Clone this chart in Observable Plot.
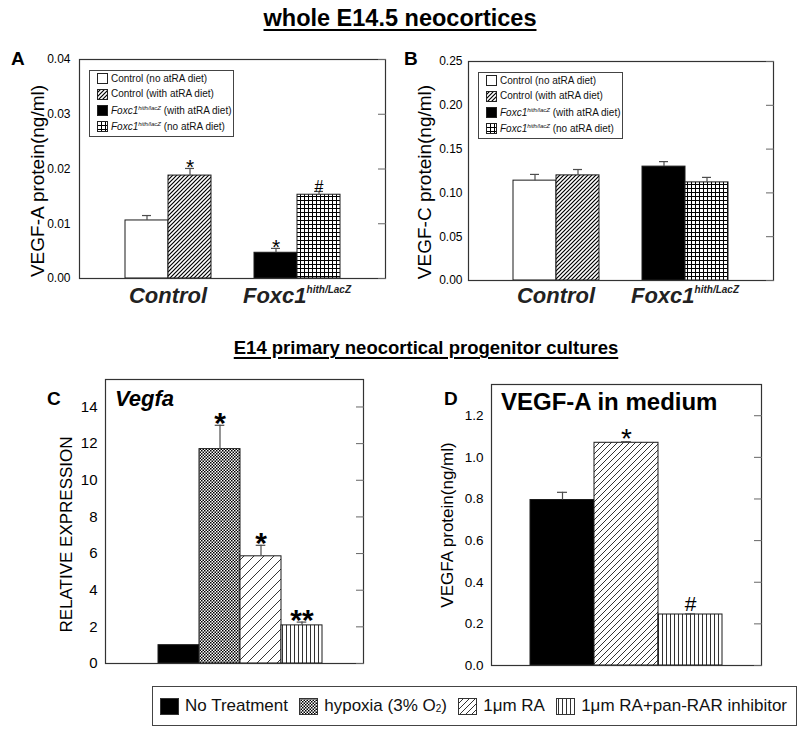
<!DOCTYPE html>
<html>
<head>
<meta charset="utf-8">
<script src="https://cdn.jsdelivr.net/npm/d3@7"></script>
<script src="https://cdn.jsdelivr.net/npm/@observablehq/plot@0.6"></script>
<style>
  html, body { margin: 0; padding: 0; background: #fff; }
  #root { position: relative; width: 800px; height: 739px; overflow: hidden; font-family: "Liberation Sans", Arial, Helvetica, sans-serif; color: #000; }
  .abs { position: absolute; white-space: nowrap; line-height: 1; }
  .panel { position: absolute; }
  .panel svg { display: block; max-width: none !important; }
  .legend { position: absolute; border: 1px solid #444; background: #fff; box-sizing: border-box; }
  .legend .row { position: absolute; left: 7px; display: flex; align-items: center; font-size: 10px; line-height: 1; white-space: nowrap; color: #111; }
  .legend .row svg { margin-right: 3px; flex: none; }
  .sup { position: relative; top: -4px; font-size: 6px; font-style: italic; }
  .botlegend { position: absolute; left: 152px; top: 686px; width: 645px; height: 40px; border: 1px solid #444; box-sizing: border-box;
               display: flex; align-items: center; justify-content: space-between; padding: 0 9px 0 7px; font-size: 17px; color: #111; }
  .botlegend .item { display: flex; align-items: center; white-space: nowrap; }
  .botlegend .item svg { margin-right: 6px; flex: none; }
  .botlegend sub { font-size: 10px; position: relative; top: 1px; vertical-align: baseline; }
</style>
</head>
<body>
<svg width="0" height="0" style="position:absolute">
  <defs>
    <pattern id="p-hatch" width="4" height="4" patternUnits="userSpaceOnUse">
      <rect width="4" height="4" fill="#fff"/>
      <path d="M-1,1 L1,-1 M0,4 L4,0 M3,5 L5,3" stroke="#000" stroke-width="1.2"/>
    </pattern>
    <pattern id="p-grid" width="4" height="4" patternUnits="userSpaceOnUse">
      <rect width="4" height="4" fill="#fff"/>
      <path d="M0,0.5 H4 M0.5,0 V4" stroke="#000" stroke-width="1"/>
    </pattern>
    <pattern id="p-check" width="3" height="3" patternUnits="userSpaceOnUse">
      <rect width="3" height="3" fill="#fff"/>
      <rect width="1.5" height="1.5" fill="#000"/>
      <rect x="1.5" y="1.5" width="1.5" height="1.5" fill="#000"/>
    </pattern>
    <pattern id="p-diag-wide" width="10" height="10" patternUnits="userSpaceOnUse">
      <rect width="10" height="10" fill="#fff"/>
      <path d="M-1,1 L1,-1 M0,10 L10,0 M9,11 L11,9" stroke="#333" stroke-width="1"/>
    </pattern>
    <pattern id="p-diag" width="6" height="6" patternUnits="userSpaceOnUse">
      <rect width="6" height="6" fill="#fff"/>
      <path d="M-1,1 L1,-1 M0,6 L6,0 M5,7 L7,5" stroke="#333" stroke-width="1"/>
    </pattern>
    <pattern id="p-vert" width="4" height="4" patternUnits="userSpaceOnUse">
      <rect width="4" height="4" fill="#fff"/>
      <path d="M2.5,0 V4" stroke="#333" stroke-width="1"/>
    </pattern>
  </defs>
</svg>
<div id="root"></div>
<script>
// ---------------- data ----------------
const figureTitle = "whole E14.5 neocortices";
const cultureTitle = "E14 primary neocortical progenitor cultures";

// Panels A & B: whole E14.5 neocortices
const dietGroups = ["Control", "Foxc1"];
const dietGroupLabels = [["Control", ""], ["Foxc1", "hith/LacZ"]];
const dietGroupOf = ["Control", "Control", "Foxc1", "Foxc1"];
const dietSeries = ["no atRA diet", "with atRA diet", "with atRA diet", "no atRA diet"];

const vegfaValues = [0.0106, 0.0188, 0.0047, 0.0153];
const vegfaErrors = [0.0009, 0.0013, 0.0008, 0.0006];
const vegfaMarks  = ["", "*", "*", "#"];
const ticksA = [0, 0.01, 0.02, 0.03, 0.04];

const vegfcValues = [0.114, 0.120, 0.130, 0.112];
const vegfcErrors = [0.0071, 0.0067, 0.0057, 0.0057];
const vegfcMarks  = ["", "", "", ""];
const ticksB = [0, 0.05, 0.10, 0.15, 0.20, 0.25];

// Panels C & D: E14 primary neocortical progenitor cultures
const treatments = ["No Treatment", "hypoxia (3% O2)", "1μm RA", "1μm RA+pan-RAR inhibitor"];
const exprValues = [1.0, 11.7, 5.85, 2.08];
const exprErrors = [0, 1.3, 0.6, 0.18];
const exprMarks  = ["", "*", "*", "**"];
const ticksC = [0, 2, 4, 6, 8, 10, 12, 14];

const mediumTreatments = ["No Treatment", "1μm RA", "1μm RA+pan-RAR inhibitor"];
const mediumValues = [0.795, 1.07, 0.245];
const mediumErrors = [0.037, 0.005, 0.003];
const mediumMarks  = ["", "*", "#"];
const ticksD = [0, 0.2, 0.4, 0.6, 0.8, 1.0, 1.2];

// ---------------- styles ----------------
const FONT = '"Liberation Sans", Arial, Helvetica, sans-serif';
const dietFills = ["#fff", "url(#p-hatch)", "#000", "url(#p-grid)"];
const treatmentFills = {
  "No Treatment": "#000",
  "hypoxia (3% O2)": "url(#p-check)",
  "1μm RA": "url(#p-diag-wide)",
  "1μm RA+pan-RAR inhibitor": "url(#p-vert)"
};
const mediumFills = {"No Treatment": "#000", "1μm RA": "url(#p-diag)", "1μm RA+pan-RAR inhibitor": "url(#p-vert)"};
const legendFills = {"No Treatment": "#000", "hypoxia (3% O2)": "url(#p-check)", "1μm RA": "url(#p-diag)", "1μm RA+pan-RAR inhibitor": "url(#p-vert)"};

const root = document.getElementById("root");

function textAt(html, {x, baseline, size, weight = "normal", style = "normal", anchor = "start", extra = ""}) {
  const el = document.createElement("div");
  el.className = "abs";
  el.style.fontSize = size + "px";
  el.style.fontWeight = weight;
  el.style.fontStyle = style;
  el.style.top = (baseline - 0.8465 * size) + "px";
  el.style.left = x + "px";
  if (anchor === "middle") el.style.transform = "translateX(-50%)";
  if (extra) el.style.cssText += extra;
  el.innerHTML = html;
  root.appendChild(el);
  return el;
}

function barPanel(o) {
  const rows = o.keys.map((k, i) => ({
    key: k, value: o.values[i], err: o.errors[i], hi: o.values[i] + o.errors[i], sig: o.marks[i], fill: o.fills[i]
  }));
  const withErr = rows.filter(d => d.err > 0);
  const stars = rows.filter(d => d.sig.startsWith("*"));
  const hashes = rows.filter(d => d.sig === "#");
  const svg = Plot.plot({
    width: o.width, height: o.height,
    marginTop: o.m[0], marginRight: o.m[1], marginBottom: o.m[2], marginLeft: o.m[3],
    style: {fontFamily: FONT, background: "transparent", overflow: "visible", color: "#000"},
    x: {domain: o.domain, paddingInner: 0, paddingOuter: o.padOuter, align: o.align ?? 0.5, axis: null},
    y: {domain: o.yDomain},
    color: {type: "identity"},
    marks: [
      Plot.barY(rows, {x: "key", y: "value", fill: "fill", stroke: "#1a1a1a", strokeWidth: 1}),
      Plot.ruleX(withErr, {x: "key", y1: "value", y2: "hi", stroke: "#4d4d4d", strokeWidth: 1.2}),
      Plot.tickY(withErr, {x: "key", y: "hi", stroke: "#4d4d4d", strokeWidth: 1.2, insetLeft: o.capInset, insetRight: o.capInset}),
      Plot.text(stars, {x: "key", y: "hi", text: "sig", fontSize: o.starSize, fontWeight: o.starWeight || "normal", dy: o.starDy}),
      Plot.text(hashes, {x: "key", y: "hi", text: "sig", fontSize: o.hashSize, dy: o.hashDy}),
      Plot.frame({stroke: "#333", strokeWidth: 1.2}),
      Plot.axisY({anchor: "left", ticks: o.ticks, tickFormat: o.fmt, tickSize: 0, tickPadding: o.tickPad, fontSize: o.tickFont, label: null}),
      Plot.axisY({anchor: "right", ticks: o.ticks, tickFormat: () => "", tickSize: -8, stroke: "#666", label: null}),
      Plot.text([o.yLabel], {text: d => d, frameAnchor: "left", textAnchor: "middle", rotate: -90, dx: o.labelDx, dy: o.labelDy, fontSize: o.labelFont})
    ]
  });
  const wrap = document.createElement("div");
  wrap.className = "panel";
  wrap.style.left = o.left + "px";
  wrap.style.top = o.top + "px";
  wrap.style.width = o.width + "px";
  wrap.style.height = o.height + "px";
  wrap.appendChild(svg);
  root.appendChild(wrap);
  return svg;
}

function addGroupLabels(svg, labels, keysByGroup, baseline) {
  const xs = svg.scale("x");
  const bw = xs.bandwidth;
  labels.forEach(([main, sup], i) => {
    const ks = keysByGroup[i];
    const x0 = xs.apply(ks[0]);
    const x1 = xs.apply(ks[ks.length - 1]) + bw;
    const t = d3.select(svg).append("text")
      .attr("x", (x0 + x1) / 2).attr("y", baseline)
      .attr("text-anchor", "middle")
      .attr("font-family", FONT).attr("font-weight", "bold").attr("font-style", "italic")
      .attr("font-size", 22).attr("fill", "#222");
    t.append("tspan").text(main);
    if (sup) t.append("tspan").attr("font-size", 10).attr("dy", -10).text(sup);
  });
}

function dietLegend(left, top) {
  const box = document.createElement("div");
  box.className = "legend";
  box.style.left = left + "px"; box.style.top = top + "px";
  box.style.width = "145px"; box.style.height = "67px";
  const centers = [8, 23.5, 40, 56];
  dietSeries.forEach((s, i) => {
    const g = dietGroupOf[i];
    const label = g === "Control" ? `Control (${s})` : `<i>${g}</i><span class="sup">hith/lacZ</span> (${s})`;
    const row = document.createElement("div");
    row.className = "row";
    row.style.top = (centers[i] - 6.5) + "px";
    row.style.height = "12px";
    row.innerHTML = `<svg width="11" height="11"><rect x="0.5" y="0.5" width="10" height="10" fill="${dietFills[i]}" stroke="#222"/></svg><span>${label}</span>`;
    box.appendChild(row);
  });
  root.appendChild(box);
}

// ---------------- titles ----------------
textAt(figureTitle, {x: 400, baseline: 27, size: 23.5, weight: "bold", anchor: "middle",
  extra: "text-decoration: underline; text-decoration-thickness: 2px; text-underline-offset: 3px;"});
textAt(cultureTitle, {x: 426, baseline: 355, size: 18.5, weight: "bold", anchor: "middle",
  extra: "text-decoration: underline; text-decoration-thickness: 2px; text-underline-offset: 3px;"});

// ---------------- panels A & B ----------------
const dietKeys = dietGroupOf.map((g, i) => g + "|" + dietSeries[i]);
const keysByGroup = dietGroups.map(g => dietKeys.filter((k, i) => dietGroupOf[i] === g));
const GAP = " ";
const dietDomain = keysByGroup.flatMap((ks, i) => i === 0 ? ks : [GAP, ...ks]);

const svgA = barPanel({
  left: 0, top: 40, width: 395, height: 270, m: [19, 10, 32, 79],
  keys: dietKeys, domain: dietDomain, padOuter: 1,
  values: vegfaValues, errors: vegfaErrors, marks: vegfaMarks, fills: dietFills,
  yDomain: [0, 0.04], ticks: ticksA, fmt: d3.format(".2f"), tickFont: 12, tickPad: 9,
  capInset: 17, starSize: 21, starDy: -1, hashSize: 16, hashDy: -5,
  yLabel: "VEGF-A protein(ng/ml)", labelFont: 19, labelDx: -42, labelDy: 12
});
addGroupLabels(svgA, dietGroupLabels, keysByGroup, 263);

const svgB = barPanel({
  left: 395, top: 40, width: 405, height: 270, m: [21, 27, 30, 73],
  keys: dietKeys, domain: dietDomain, padOuter: 1,
  values: vegfcValues, errors: vegfcErrors, marks: vegfcMarks, fills: dietFills,
  yDomain: [0, 0.25], ticks: ticksB, fmt: d3.format(".2f"), tickFont: 12, tickPad: 6,
  capInset: 17, starSize: 21, starDy: -1, hashSize: 16, hashDy: -5,
  yLabel: "VEGF-C protein(ng/ml)", labelFont: 19, labelDx: -44, labelDy: 11
});
addGroupLabels(svgB, dietGroupLabels, keysByGroup, 263);

dietLegend(89, 70);
dietLegend(478, 72);

textAt("A", {x: 11, baseline: 65, size: 19, weight: "bold"});
textAt("B", {x: 404, baseline: 65, size: 19, weight: "bold"});

// ---------------- panels C & D ----------------
barPanel({
  left: 0, top: 360, width: 400, height: 320, m: [19, 37, 17, 105],
  keys: treatments, domain: treatments, padOuter: 1.108, align: 0.565,
  values: exprValues, errors: exprErrors, marks: exprMarks, fills: treatments.map(t => treatmentFills[t]),
  yDomain: [0, 15.5], ticks: ticksC, fmt: d3.format("d"), tickFont: 15, tickPad: 8,
  capInset: 15.7, starSize: 30, starWeight: "bold", starDy: -1.5, hashSize: 20, hashDy: -9,
  yLabel: "RELATIVE EXPRESSION", labelFont: 17, labelDx: -39, labelDy: 13
});

barPanel({
  left: 400, top: 360, width: 400, height: 320, m: [24, 39, 15, 91],
  keys: mediumTreatments, domain: mediumTreatments, padOuter: 0.6,
  values: mediumValues, errors: mediumErrors, marks: mediumMarks, fills: mediumTreatments.map(t => mediumFills[t]),
  yDomain: [0, 1.35], ticks: ticksD, fmt: d3.format(".1f"), tickFont: 13.5, tickPad: 8,
  capInset: 27, starSize: 28, starDy: -3, hashSize: 21, hashDy: -9.5,
  yLabel: "VEGFA protein(ng/ml)", labelFont: 17, labelDx: -44, labelDy: 0
});

textAt("C", {x: 47, baseline: 405, size: 19, weight: "bold"});
textAt("Vegfa", {x: 115, baseline: 407, size: 22, weight: "bold", style: "italic"});
textAt("D", {x: 444, baseline: 405, size: 19, weight: "bold"});
textAt("VEGF-A in medium", {x: 501, baseline: 410, size: 24, weight: "bold"});

// ---------------- bottom legend ----------------
const bot = document.createElement("div");
bot.className = "botlegend";
treatments.forEach(t => {
  const item = document.createElement("div");
  item.className = "item";
  const label = t.replace("O2", "O<sub>2</sub>");
  item.innerHTML = `<svg width="19" height="17"><rect x="0.5" y="0.5" width="18" height="16" fill="${legendFills[t]}" stroke="#333"/></svg><span>${label}</span>`;
  bot.appendChild(item);
});
root.appendChild(bot);
</script>
</body>
</html>
